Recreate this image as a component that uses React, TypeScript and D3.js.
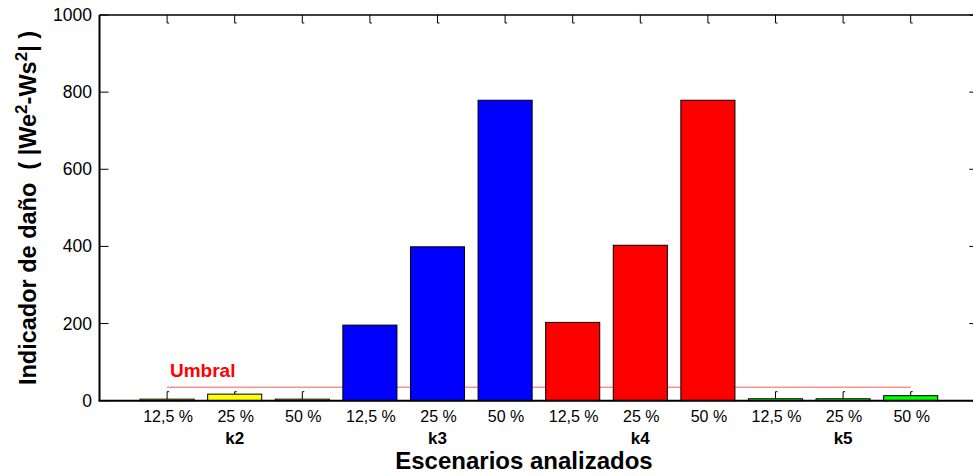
import * as d3 from 'd3';

const groups = ['k2', 'k3', 'k4', 'k5'];
const levels = ['12,5 %', '25 %', '50 %'];
const values = [4, 17, 4, 196, 399, 779, 203, 403, 779, 5, 5, 13];
const groupColors = ['#ffff00', '#0000ff', '#ff0000', '#00ff00'];
const threshold = 35;
const yTicks = [0, 200, 400, 600, 800, 1000];

const W = 973;
const H = 476;
const font = 'Arial, "Liberation Sans", Helvetica, sans-serif';

export default function App() {
  const x = d3.scaleLinear().domain([0, 13]).range([99.5, 978.3]);
  const y = d3.scaleLinear().domain([0, 1000]).range([400.7, 15]);
  const step = x(1) - x(0);
  const bw = step * 0.8;
  const positions = d3.range(1, values.length + 1);

  const bars = values.map((v, i) => ({
    v,
    pos: positions[i],
    color: groupColors[Math.floor(i / levels.length)],
    label: levels[i % levels.length],
  }));

  return (
    <svg width={W} height={H} style={{ position: 'absolute', left: 0, top: 0, background: '#fff' }} fontFamily={font}>
      <rect width={W} height={H} fill="#fff" />

      {/* x ticks (top and bottom, with little hooks) - behind bars */}
      <g stroke="#000" strokeWidth={1} fill="none">
        {positions.map((p) => (
          <g key={p}>
            <path d={`M${x(p)},${y(1000)} V${y(1000) + 8} h2`} />
            <path d={`M${x(p)},${y(0)} V${y(0) - 9} h2`} />
          </g>
        ))}
      </g>

      {/* y ticks left and right */}
      <g stroke="#000" strokeWidth={1}>
        {yTicks.map((t) => (
          <g key={t}>
            <line x1={x(0)} x2={x(0) + 9} y1={y(t)} y2={y(t)} />
            <line x1={x(13)} x2={x(13) - 9} y1={y(t)} y2={y(t)} />
          </g>
        ))}
      </g>

      {/* threshold line */}
      <line x1={x(1)} x2={x(12)} y1={y(threshold)} y2={y(threshold)} stroke="#ff0000" strokeWidth={0.8} opacity={0.8} />
      <text x={170} y={377} fill="#ff0000" fontSize={19} fontWeight="bold">Umbral</text>

      {/* bars */}
      {bars.map((b, i) => (
        <rect
          key={i}
          x={x(b.pos) - bw / 2}
          y={y(b.v)}
          width={bw}
          height={y(0) - y(b.v)}
          fill={b.color}
          stroke="#000"
          strokeWidth={1}
        />
      ))}

      {/* axes lines */}
      <line x1={x(0)} x2={x(0)} y1={y(1000)} y2={y(0)} stroke="#000" strokeWidth={2} />
      <line x1={x(0) - 1} x2={W} y1={y(0)} y2={y(0)} stroke="#000" strokeWidth={2} />
      <line x1={x(0)} x2={W} y1={y(1000)} y2={y(1000)} stroke="#000" strokeWidth={1.3} />

      {/* y tick labels */}
      {yTicks.map((t) => (
        <text key={t} x={92} y={y(t) + 6} textAnchor="end" fontSize={17.5} fill="#000">{t}</text>
      ))}

      {/* x tick labels */}
      {bars.map((b, i) => (
        <text key={i} x={x(b.pos) + 1} y={422} textAnchor="middle" fontSize={16} fill="#000">{b.label}</text>
      ))}

      {/* group labels */}
      {groups.map((g, gi) => (
        <text key={g} x={x(gi * levels.length + 2)} y={444} textAnchor="middle" fontSize={17} fontWeight="bold" fill="#000">{g}</text>
      ))}

      {/* axis titles */}
      <text x={524} y={469} textAnchor="middle" fontSize={24} fontWeight="bold" fill="#000">Escenarios analizados</text>
      <text transform="translate(36,208) rotate(-90)" textAnchor="middle" fontSize={23.5} fontWeight="bold" fill="#000" style={{ whiteSpace: 'pre' }}>
        {'Indicador de daño  ( |We'}
        <tspan dy={-9} fontSize={17}>2</tspan>
        <tspan dy={9}>-Ws</tspan>
        <tspan dy={-9} fontSize={17}>2</tspan>
        <tspan dy={9}>| )</tspan>
      </text>
    </svg>
  );
}
